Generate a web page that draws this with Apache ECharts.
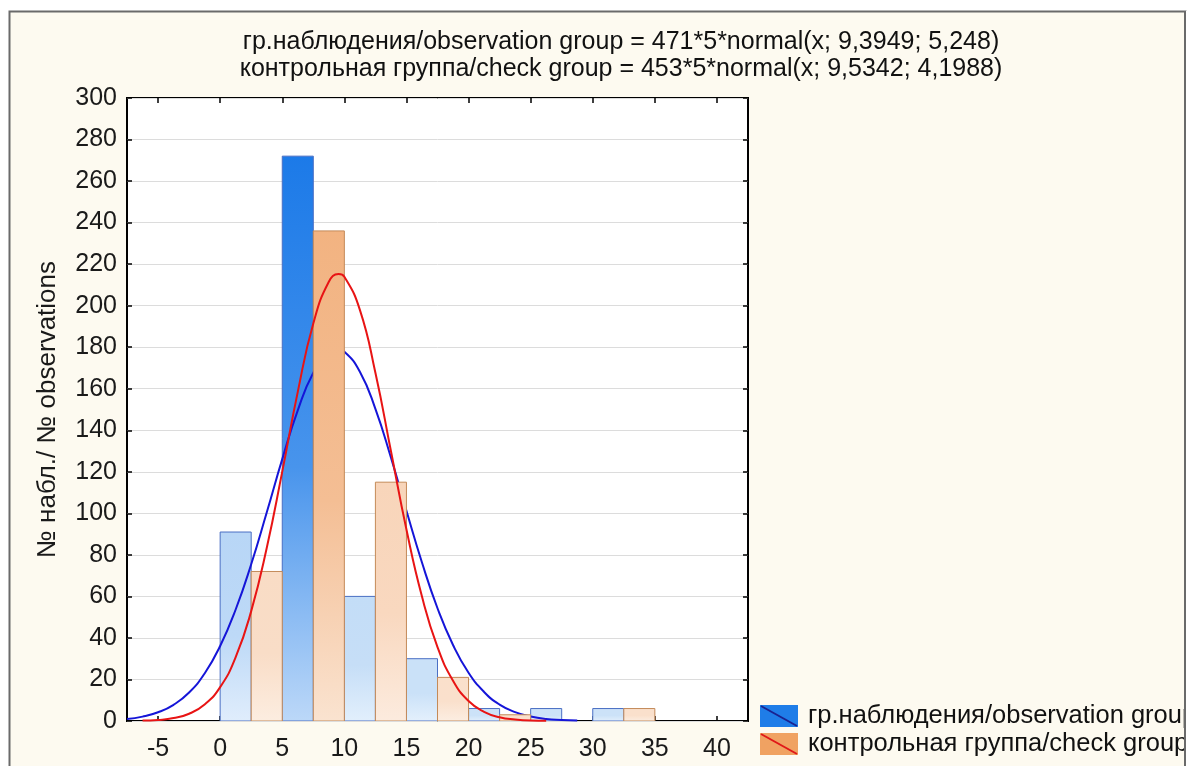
<!DOCTYPE html>
<html>
<head>
<meta charset="utf-8">
<script src="https://cdn.jsdelivr.net/npm/echarts@6/dist/echarts.min.js"></script>
<style>
html,body{margin:0;padding:0;background:#fff;}
#chart{width:1189px;height:766px;}
</style>
</head>
<body>
<div id="chart"></div>
<script>
// ---- data ----
const titleLines = [
  'гр.наблюдения/observation group = 471*5*normal(x; 9,3949; 5,248)',
  'контрольная группа/check group = 453*5*normal(x; 9,5342; 4,1988)'
];
const seriesNames = ['гр.наблюдения/observation group', 'контрольная группа/check group'];
const yAxisName = '№ набл./ № observations';
const binStarts = [0, 5, 10, 15, 20, 25, 30];
const binHalf = 2.5;
const obsCounts = [91, 272, 60, 30, 6, 6, 6];
const chkCounts = [72, 236, 115, 21, 3, 0, 6];
const xTickValues = [-5, 0, 5, 10, 15, 20, 25, 30, 35, 40];
const obsCurveX = [-7.5, -6.25, -5, -3.75, -2.5, -1.25, 0, 1.25, 2.5, 3.75, 5, 6.25, 7.5, 8.75, 9.4, 10, 11.25, 12.5, 13.75, 15, 16.25, 17.5, 18.75, 20, 21.25, 22.5, 23.75, 25, 26.25, 27.5, 28.75];
const obsCurveY = [1.0, 2.1, 4.2, 7.8, 13.7, 22.9, 36.1, 53.7, 75.5, 100.4, 126.1, 149.6, 167.7, 177.7, 179.0, 177.8, 168.2, 150.3, 126.9, 101.2, 76.3, 54.3, 36.6, 23.2, 14.0, 7.9, 4.3, 2.2, 1.0, 0.5, 0.2];
const chkCurveX = [-6.25, -5, -3.75, -2.5, -1.25, 0, 1.25, 2.5, 3.75, 5, 6.25, 7.5, 8.75, 9.53, 10, 11.25, 12.5, 13.75, 15, 16.25, 17.5, 18.75, 20, 21.25, 22.5, 23.75, 25, 26.25];
const chkCurveY = [0.2, 0.5, 1.4, 3.5, 8.0, 16.3, 30.7, 52.9, 83.3, 120.1, 158.5, 191.4, 211.5, 215.2, 213.9, 198.0, 167.7, 130.0, 92.2, 59.9, 35.6, 19.4, 9.6, 4.4, 1.8, 0.7, 0.2, 0.1];

// ---- build ----
const FONT = '"Liberation Sans", Arial, sans-serif';
const obsBars = binStarts.map((s, i) => [s, s + binHalf, obsCounts[i]]);
const chkBars = binStarts.map((s, i) => [s + binHalf, s + 2 * binHalf, chkCounts[i]]);
const obsLine = obsCurveX.map((x, i) => [x, obsCurveY[i]]);
const chkLine = chkCurveX.map((x, i) => [x, chkCurveY[i]]);

function mix(a, b, t) {
  return 'rgb(' + a.map((v, k) => Math.round(v + (b[k] - v) * t)).join(',') + ')';
}
function makeRender(strong, pale, vpale, maxV, stroke) {
  return function (params, api) {
    const x0 = api.value(0), x1 = api.value(1), v = api.value(2);
    if (!v) return null;
    const p0 = api.coord([x0, v]);
    const p1 = api.coord([x1, 0]);
    const t = Math.pow(v / maxV, 2);
    const top = mix(pale, strong, t);
    const mid = mix(pale, strong, t * 0.75);
    const bot = mix(vpale, strong, t * 0.2);
    return {
      type: 'rect',
      shape: { x: p0[0], y: p0[1], width: p1[0] - p0[0], height: p1[1] - p0[1] },
      style: {
        fill: new echarts.graphic.LinearGradient(0, 0, 0, 1, [
          { offset: 0, color: top }, { offset: 0.55, color: mid }, { offset: 1, color: bot }
        ]),
        stroke: stroke, lineWidth: 1
      }
    };
  };
}

const chart = echarts.init(document.getElementById('chart'), null, { renderer: 'canvas' });
const axisTextColor = '#1a1a1a';
const tickStyle = { color: '#000', width: 1.5 };
const option = {
  backgroundColor: '#ffffff',
  animation: false,
  title: {
    text: titleLines.join('\n'),
    left: 616, top: 24, textAlign: 'center',
    textStyle: { fontFamily: FONT, fontSize: 25, fontWeight: 'normal', color: '#111', lineHeight: 27 }
  },
  grid: {
    left: 127, right: 441, top: 98, bottom: 45,
    show: true, backgroundColor: '#ffffff', borderColor: '#000', borderWidth: 2
  },
  xAxis: [{
    type: 'value', min: -7.5, max: 42.5,
    axisLine: { show: false, onZero: false },
    splitLine: { show: false },
    axisTick: { show: true, inside: true, length: 5, customValues: xTickValues, lineStyle: tickStyle },
    axisLabel: { customValues: xTickValues, fontFamily: FONT, fontSize: 25, color: axisTextColor, margin: 16 }
  }, {
    type: 'value', min: -7.5, max: 42.5, position: 'top',
    axisLine: { show: false, onZero: false }, splitLine: { show: false },
    axisTick: { show: true, inside: true, length: 5, customValues: xTickValues, lineStyle: tickStyle },
    axisLabel: { show: false }
  }],
  yAxis: [{
    type: 'value', min: 0, max: 300, interval: 20,
    name: yAxisName, nameLocation: 'middle', nameRotate: 90, nameGap: 66,
    nameTextStyle: { fontFamily: FONT, fontSize: 26, color: axisTextColor },
    axisLine: { show: false, onZero: false },
    axisTick: { show: true, inside: true, length: 5, lineStyle: tickStyle },
    splitLine: { show: true, lineStyle: { color: '#dcdcdc', width: 1 } },
    axisLabel: { fontFamily: FONT, fontSize: 25, color: axisTextColor, margin: 10 }
  }, {
    type: 'value', min: 0, max: 300, interval: 20, position: 'right',
    axisLine: { show: false, onZero: false }, splitLine: { show: false },
    axisTick: { show: true, inside: true, length: 5, lineStyle: tickStyle },
    axisLabel: { show: false }
  }],
  series: [
    {
      name: seriesNames[0], type: 'custom', data: obsBars, clip: true, z: 2,
      encode: { x: [0, 1], y: 2 },
      renderItem: makeRender([28, 122, 232], [204, 226, 248], [228, 240, 252], 272, '#4a6fc4')
    },
    {
      name: seriesNames[0] + ' fit', type: 'line', data: obsLine, smooth: 0.5, showSymbol: false, z: 3,
      lineStyle: { color: '#1515d8', width: 2 }, clip: true
    },
    {
      name: seriesNames[1], type: 'custom', data: chkBars, clip: true, z: 4,
      encode: { x: [0, 1], y: 2 },
      renderItem: makeRender([240, 164, 104], [250, 224, 204], [252, 238, 226], 272, '#c48a58')
    },
    {
      name: seriesNames[1] + ' fit', type: 'line', data: chkLine, smooth: 0.5, showSymbol: false, z: 5,
      lineStyle: { color: '#e81414', width: 2 }, clip: true
    }
  ],
  graphic: [
    { type: 'rect', z: -10, silent: true, shape: { x: 9.5, y: 11.5, width: 1176, height: 770 },
      style: { fill: '#fdfaf0', stroke: '#6a6a6a', lineWidth: 2 } },
    // legend icons
    { type: 'rect', z: 10, shape: { x: 760, y: 705, width: 38, height: 22 }, style: { fill: '#1f7de8' } },
    { type: 'line', z: 11, shape: { x1: 761, y1: 706, x2: 797, y2: 726 }, style: { stroke: '#1a2290', lineWidth: 2 } },
    { type: 'rect', z: 10, shape: { x: 760, y: 733, width: 38, height: 22 }, style: { fill: '#f0a262' } },
    { type: 'line', z: 11, shape: { x1: 761, y1: 734, x2: 797, y2: 754 }, style: { stroke: '#e01818', lineWidth: 2 } },
    { type: 'text', z: 10, x: 808, y: 716, style: { text: seriesNames[0], font: '25.5px ' + FONT, fill: '#111', textVerticalAlign: 'middle' } },
    { type: 'text', z: 10, x: 808, y: 744, style: { text: seriesNames[1], font: '25.5px ' + FONT, fill: '#111', textVerticalAlign: 'middle' } },
    // right frame edge covering clipped legend text
    { type: 'rect', z: 20, silent: true, shape: { x: 1184, y: 11, width: 10, height: 760 }, style: { fill: '#ffffff' } },
    { type: 'line', z: 21, silent: true, shape: { x1: 1185, y1: 11, x2: 1185, y2: 766 }, style: { stroke: '#6a6a6a', lineWidth: 2 } }
  ]
};
chart.setOption(option);
</script>
</body>
</html>
